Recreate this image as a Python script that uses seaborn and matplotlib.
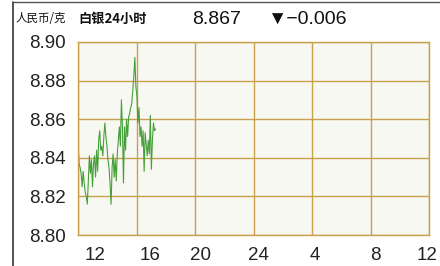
import numpy as np
import pandas as pd
import matplotlib
matplotlib.use("Agg")
import matplotlib.pyplot as plt
import matplotlib.transforms as mtransforms
from matplotlib.lines import Line2D
import seaborn as sns

# ---- data (silver, CNY per gram, 24h) ----
price = [
    8.848, 8.837, 8.835, 8.832, 8.825, 8.833, 8.827, 8.822, 8.820, 8.816,
    8.828, 8.841, 8.832, 8.839, 8.825, 8.837, 8.841, 8.830, 8.844, 8.833,
    8.849, 8.854, 8.844, 8.846, 8.841, 8.851, 8.858, 8.851, 8.846, 8.839,
    8.835, 8.827, 8.816, 8.835, 8.842, 8.830, 8.839, 8.828, 8.842, 8.849,
    8.856, 8.846, 8.870, 8.856, 8.827, 8.856, 8.844, 8.860, 8.851, 8.861,
    8.863, 8.866, 8.868, 8.875, 8.882, 8.892, 8.877, 8.872, 8.858, 8.866,
    8.851, 8.856, 8.846, 8.854, 8.833, 8.853, 8.847, 8.841, 8.849, 8.842,
    8.862, 8.834, 8.849, 8.858, 8.854, 8.855,
]
hours = np.linspace(0, 5.3, len(price))  # elapsed hours since 12:00
df = pd.DataFrame({"hour": hours, "price": price})

x_ticks = [0, 4, 8, 12, 16, 20, 24]
x_labels = ["12", "16", "20", "24", "4", "8", "12"]
y_ticks = [8.80, 8.82, 8.84, 8.86, 8.88, 8.90]

last_price = "8.867"
change = "\u25bc\u22120.006"

# ---- style ----
GRID = "#c9a04c"
LINE = "#45a03a"
BG = "#f8f8f3"
FONT = ["Liberation Sans", "DejaVu Sans"]
CJK = ["Noto Sans CJK SC", "DejaVu Sans"]

sns.set_style("white")
plt.rcParams["font.family"] = FONT

fig = plt.figure(figsize=(4.4, 2.66), dpi=100)
ax = fig.add_axes([78 / 440, 1 - 235 / 266, 351 / 440, 193 / 266])
ax.set_facecolor(BG)

sns.lineplot(data=df, x="hour", y="price", ax=ax, color=LINE, lw=0.8)

ax.set_xlim(0, 24)
ax.set_ylim(8.80, 8.90)
ax.set_xticks(x_ticks)
ax.set_xticklabels([])
ax.set_yticks(y_ticks)
ax.set_yticklabels([f"{v:.2f}" for v in y_ticks], fontsize=13.5, color="#222222")
ax.tick_params(axis="both", length=0)
ax.tick_params(axis="y", pad=9)
ax.grid(True, color=GRID, lw=1.0)
ax.set_xlabel("")
ax.set_ylabel("")
for s in ax.spines.values():
    s.set_color(GRID)
    s.set_linewidth(1.0)

# x labels sit a little right of their grid lines in the original
shift_px = [17, 14, 5, 5, 3, 5, -2]
trans = mtransforms.blended_transform_factory(ax.transData, ax.transAxes)
for xv, lab, dx in zip(x_ticks, x_labels, shift_px):
    t = trans + mtransforms.ScaledTranslation(dx / 100, 0, fig.dpi_scale_trans)
    ax.text(xv, -0.105, lab, transform=t, ha="center", va="center",
            fontsize=13.5, color="#222222", clip_on=False)

# ---- frame lines ----
fig.add_artist(Line2D([13 / 440, 13 / 440], [0, 1 - 2 / 266],
                      transform=fig.transFigure, color="#333333", lw=1.2))
fig.add_artist(Line2D([13 / 440, 1], [1 - 2 / 266, 1 - 2 / 266],
                      transform=fig.transFigure, color="#555555", lw=1.0))

# ---- header ----
ty = 1 - 19 / 266
fig.text(16 / 440, ty, "人民币/克", family=CJK, fontsize=8.3, va="center",
         color="#111111")
fig.text(78 / 440, ty, "白银24小时", family=CJK, fontsize=9.5,
         fontweight="bold", va="center", color="#111111")
fig.text(192 / 440, ty, last_price, fontsize=14, va="center", color="#111111")
fig.text(267 / 440, ty, change, fontsize=14, va="center", color="#111111",
         family=FONT)

fig.savefig("out.png", dpi=100)
